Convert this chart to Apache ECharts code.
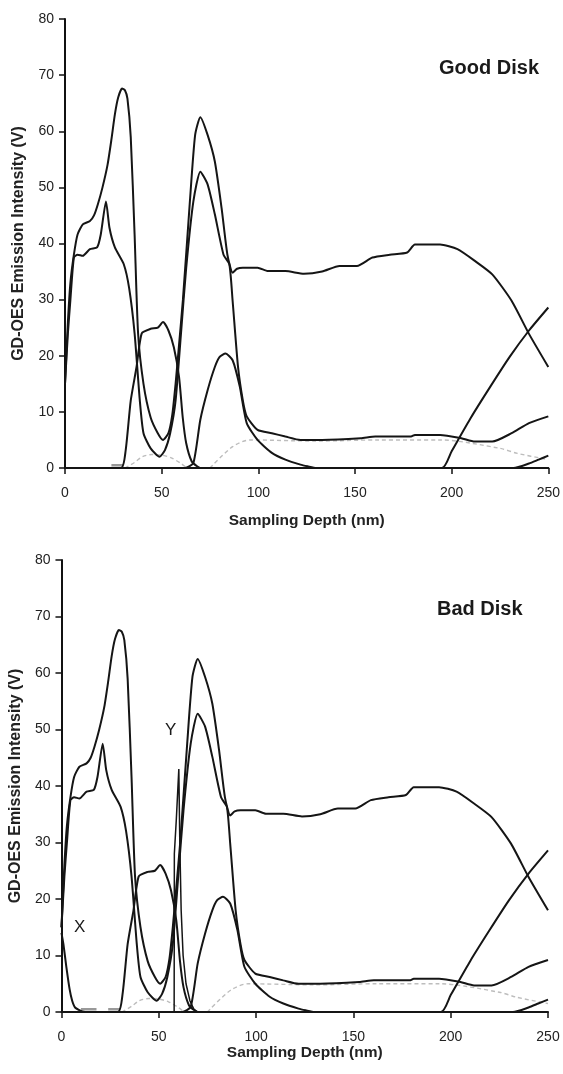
<!DOCTYPE html>
<html>
<head>
<meta charset="utf-8">
<script src="https://cdn.jsdelivr.net/npm/echarts@6/dist/echarts.min.js"></script>
<style>
html, body { margin: 0; padding: 0; background: #fff; }
#chart { width: 563px; height: 1074px; }
</style>
</head>
<body>
<div id="chart"></div>
<script>
// depth (nm), intensity (V) pairs
var curveA = [[0,15],[1.5,26],[2.8,33],[4.6,38],[6.5,41.6],[9.2,43.4],[12.9,44],[15,45],[17,47],[19.4,50],[22,54],[24,58.5],[25.8,63],[27.5,66],[29.5,67.6],[31,67.3],[32.3,65.8],[34,59],[36,41.6],[37.8,24],[40.6,15],[44.3,9],[48,6.2],[50.7,5],[53.5,6.2],[55.5,9.5],[57.2,15],[59,22],[61,30],[64.6,47.5],[67.3,59.3],[70,62.5],[73.8,59.3],[77.5,54.6],[81,46.3],[84,38],[86.7,34.8],[89,35.5],[92,35.7],[99.6,35.7],[105,35.1],[114,35.1],[123.6,34.6],[133,35],[142,36],[151,36],[159,37.5],[168,38],[177,38.4],[181,39.8],[194,39.8],[203,39],[212,36.9],[221,34.5],[231,29.8],[240,23.9],[250,18]];
var curveB = [[0,15],[1.5,24],[2.8,30],[4.6,37.5],[6.5,38],[9.2,37.8],[12.9,39],[16.6,39.3],[18.5,41.6],[21.2,47.5],[23,42.8],[25.8,39.3],[30.4,36.3],[33.2,32],[36,24],[38.7,12],[40.6,6.2],[44.3,3.5],[48.9,2],[51.7,3.2],[54.4,6.2],[57.2,12],[60,24],[62.7,35.7],[66.4,47.5],[70,52.8],[73.8,50.5],[77.5,45.2],[82,38],[85,36.3],[86.7,29.8],[89.5,18],[92,12],[94,9.2],[99.6,6.8],[107,6.2],[114,5.6],[121.8,5],[133,5],[153,5.3],[160.5,5.6],[179,5.6],[181,5.9],[194,5.9],[205,5.3],[212,4.7],[221,4.7],[231,6.2],[240,8],[250,9.2]];
var curveC = [[0,0],[29,0],[31.4,3.2],[34,12],[37,18],[39.7,24],[44.3,24.8],[48,25],[50.7,26],[53.5,24.5],[56.3,21.5],[59,16.2],[60.9,9],[62.7,4.4],[65.5,1.2],[68.3,0.3],[70,0],[250,0]];
var curveD = [[0,0],[62,0],[66.4,0.9],[70,8.6],[73.8,13.9],[77.5,18],[80,19.8],[83,20.4],[86.7,19.2],[90.4,14.5],[94,8],[99.6,5],[107,2.7],[114,1.5],[121.8,0.6],[125.5,0.3],[130,0],[250,0]];
var curveE = [[0,0],[195,0],[200,3],[210,9],[220,14.5],[230,19.8],[240,24.5],[250,28.6]];
var curveF = [[0,0],[232,0],[240,0.8],[245,1.5],[250,2.2]];
var grayHump = [[31,0],[36,1],[40,2],[45,2.4],[50,2.3],[55,1.8],[60,0.8],[63,0]];
var grayTail = [[75,0],[86.7,3.8],[96,5],[130,4.8],[162,5],[194,5],[225,3.5],[234,2.6],[250,1.5]];
var grayLedge = [[24,0.5],[30,0.5]];
// only in the bad disk
var curveX = [[0,14],[1,12],[2.5,8],[4.2,4],[5.5,2],[7,0.8],[10,0.2],[12,0]];
var curveY = [[57.9,0],[58,28],[59,34],[60.3,43],[60.8,30],[61.5,18],[62.5,10],[64,5],[66,2],[68,0.5],[70,0]];
var grayLedgeBad = [[10,0.5],[18,0.5]];

var depthTicks = { min: 0, max: 250, interval: 50 };
var intensityTicks = { min: 0, max: 80, interval: 10 };

var FONT = 'Liberation Sans, Arial, sans-serif';
var chart = echarts.init(document.getElementById('chart'));

function blackLine(data, idx) {
    return { type: 'line', data: data, xAxisIndex: idx, yAxisIndex: idx, showSymbol: false, smooth: 0.2,
        lineStyle: { color: '#151515', width: 2 } };
}
function grayLine(data, idx) {
    return { type: 'line', data: data, xAxisIndex: idx, yAxisIndex: idx, showSymbol: false, smooth: 0.3,
        lineStyle: { color: '#bdbdbd', width: 1.4, type: [4, 3] } };
}
function ledge(data, idx) {
    return { type: 'line', data: data, xAxisIndex: idx, yAxisIndex: idx, showSymbol: false,
        lineStyle: { color: '#999', width: 2.5 } };
}

function xAxisFor(idx, gap) {
    return {
        type: 'value', gridIndex: idx, min: depthTicks.min, max: depthTicks.max, interval: depthTicks.interval,
        name: 'Sampling Depth (nm)', nameLocation: 'middle', nameGap: gap,
        nameTextStyle: { fontFamily: FONT, fontWeight: 'bold', fontSize: 15.5, color: '#222' },
        axisLine: { lineStyle: { color: '#111', width: 2 } },
        axisTick: { length: 6, lineStyle: { color: '#111', width: 1.5 } },
        axisLabel: { margin: 18, fontFamily: FONT, fontSize: 14, color: '#222' },
        splitLine: { show: false }
    };
}
function yAxisFor(idx, gap) {
    return {
        type: 'value', gridIndex: idx, min: intensityTicks.min, max: intensityTicks.max, interval: intensityTicks.interval,
        name: 'GD-OES Emission Intensity (V)', nameLocation: 'middle', nameGap: gap, nameRotate: 90,
        nameTextStyle: { fontFamily: FONT, fontWeight: 'bold', fontSize: 16, color: '#222' },
        axisLine: { show: true, lineStyle: { color: '#111', width: 2 } },
        axisTick: { show: true, length: 6, lineStyle: { color: '#111', width: 1.5 } },
        axisLabel: { margin: 11, fontFamily: FONT, fontSize: 14, color: '#222' },
        splitLine: { show: false }
    };
}

var common = [grayHump, grayTail];
var blacks = [curveC, curveD, curveE, curveF, curveA, curveB];
var series = [];
[0, 1].forEach(function (i) {
    common.forEach(function (d) { series.push(grayLine(d, i)); });
    series.push(ledge(grayLedge, i));
    if (i === 1) series.push(ledge(grayLedgeBad, 1));
    blacks.forEach(function (d) { series.push(blackLine(d, i)); });
});
series.push(blackLine(curveX, 1));
var ySpike = blackLine(curveY, 1);
ySpike.smooth = false;
ySpike.lineStyle.width = 1.5;
series.push(ySpike);

chart.setOption({
    animation: false,
    backgroundColor: '#fff',
    grid: [
        { left: 65, top: 19, width: 485, height: 449 },
        { left: 61, top: 560, width: 487, height: 452 }
    ],
    xAxis: [xAxisFor(0, 45), xAxisFor(1, 33)],
    yAxis: [yAxisFor(0, 38), yAxisFor(1, 36)],
    series: series,
    graphic: [
        { type: 'text', left: 439, top: 58, style: { text: 'Good Disk', font: 'bold 20px ' + FONT, fill: '#1a1a1a' } },
        { type: 'text', left: 437, top: 599, style: { text: 'Bad Disk', font: 'bold 20px ' + FONT, fill: '#1a1a1a' } },
        { type: 'text', left: 74, top: 919, style: { text: 'X', font: '17px ' + FONT, fill: '#1a1a1a' } },
        { type: 'text', left: 165, top: 722, style: { text: 'Y', font: '17px ' + FONT, fill: '#1a1a1a' } }
    ]
});
</script>
</body>
</html>
